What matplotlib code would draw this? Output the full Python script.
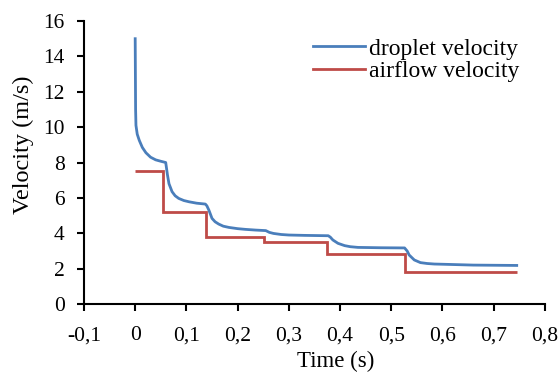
import matplotlib
matplotlib.use("Agg")
import matplotlib.pyplot as plt
from matplotlib.ticker import FuncFormatter, MultipleLocator

# droplet velocity
drop_t = [0, 0.0008, 0.0015, 0.004, 0.008, 0.014, 0.021, 0.03, 0.04, 0.05,
          0.0596, 0.063, 0.066, 0.072, 0.078, 0.085, 0.095, 0.105, 0.12, 0.137,
          0.14, 0.144, 0.15, 0.156, 0.163, 0.172, 0.183, 0.2, 0.215, 0.235,
          0.255, 0.262, 0.27, 0.285, 0.3, 0.33, 0.377, 0.381, 0.386, 0.396,
          0.409, 0.42, 0.435, 0.48, 0.526, 0.531, 0.535, 0.545, 0.557, 0.57,
          0.584, 0.61, 0.66, 0.745]
drop_v = [15, 11, 10.1, 9.6, 9.25, 8.85, 8.55, 8.3, 8.15, 8.07,
          8.0, 7.3, 6.8, 6.35, 6.12, 5.97, 5.85, 5.78, 5.7, 5.65,
          5.55, 5.3, 4.84, 4.65, 4.52, 4.4, 4.33, 4.26, 4.22, 4.18,
          4.15, 4.05, 3.99, 3.93, 3.9, 3.88, 3.86, 3.78, 3.62, 3.43,
          3.3, 3.24, 3.2, 3.18, 3.17, 3.0, 2.77, 2.49, 2.34, 2.29,
          2.26, 2.24, 2.2, 2.18]

# airflow velocity, piecewise constant
air_edges = [0, 0.055, 0.139, 0.252, 0.374, 0.527, 0.745]
air_levels = [7.5, 5.2, 3.8, 3.5, 2.8, 1.8]

plt.rcParams['font.family'] = ['Liberation Serif', 'DejaVu Serif']

fig = plt.figure(figsize=(5.58, 3.72), dpi=100)
ax = fig.add_axes([0.1505, 0.1828, 0.826, 0.7607])

ax.plot(drop_t, drop_v, color='#4a7ebb', lw=2.0, label='droplet velocity')
ax.stairs(air_levels, air_edges, baseline=None, color='#be4b48', lw=2.0,
          label='airflow velocity')

ax.set_xlim(-0.1, 0.8)
ax.set_ylim(0, 16)
ax.xaxis.set_major_locator(MultipleLocator(0.1))
ax.yaxis.set_major_locator(MultipleLocator(2))

def comma(x, pos):
    if abs(x) < 1e-9:
        return "0"
    return f"{x:.1f}".replace('.', ',')

ax.xaxis.set_major_formatter(FuncFormatter(comma))
ax.yaxis.set_major_formatter(FuncFormatter(lambda y, p: f"{y:.0f}"))

for s in ['top', 'right']:
    ax.spines[s].set_visible(False)
for s in ['left', 'bottom']:
    ax.spines[s].set_linewidth(1.5)
ax.tick_params(direction='out', length=5, width=1.5, labelsize=15.5)
ax.tick_params(axis='y', pad=9)
ax.tick_params(axis='x', pad=11)

ax.set_xlabel('Time (s)', fontsize=16.5)
ax.set_ylabel('Velocity (m/s)', fontsize=17.5)
ax.xaxis.set_label_coords(0.547, -0.165)
ax.yaxis.set_label_coords(-0.108, 0.562)

ax.legend(loc='upper right', bbox_to_anchor=(0.975, 0.99), frameon=False,
          fontsize=17, handlelength=2.2, handletextpad=0.15,
          labelspacing=0.05, borderaxespad=0.2)

fig.savefig('out.png', dpi=100)
